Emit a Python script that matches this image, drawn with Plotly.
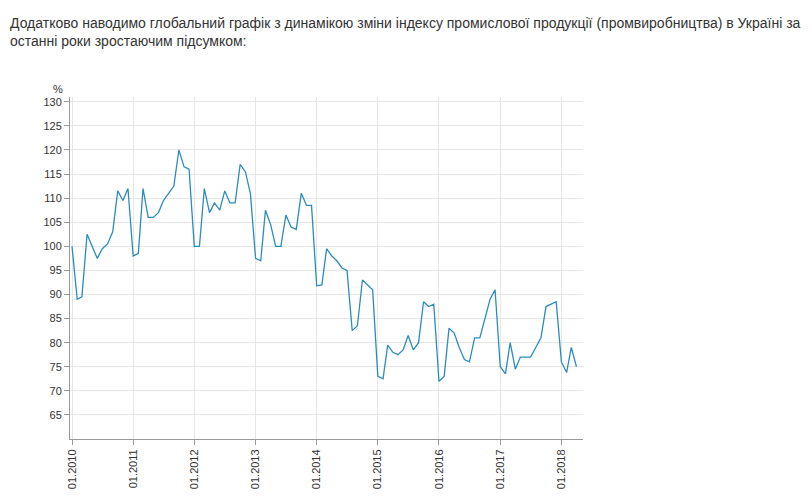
import plotly.graph_objects as go
import pandas as pd

start_month = "2010-01-01"
values = [
    100, 89, 89.5, 102.5, 100, 97.5, 99.5, 100.5, 103, 111.5, 109.5, 112,
    98, 98.5, 112, 106, 106, 107, 109.5, 111, 112.5, 120, 116.5, 116,
    100, 100, 112, 107, 109, 107.5, 111.5, 109, 109, 117, 115.5, 111,
    97.5, 97, 107.5, 104.5, 100, 100, 106.5, 104, 103.5, 111, 108.5, 108.5,
    91.8, 92, 99.5, 98, 97, 95.5, 95, 82.5, 83.5, 93, 92, 91,
    73, 72.5, 79.5, 78, 77.5, 78.5, 81.5, 78.5, 80, 88.5, 87.5, 88,
    72, 73, 83, 82, 79, 76.5, 76, 81, 81, 85, 89, 91,
    75, 73.5, 80, 74.5, 77, 77, 77, 79, 81, 87.5, 88, 88.5,
    76, 73.8, 79, 75,
]
dates = pd.date_range(start_month, periods=len(values), freq="MS")
year_ticks = pd.date_range("2010-01-01", "2018-01-01", freq="YS")
y_ticks = list(range(65, 131, 5))

fig = go.Figure(go.Scatter(x=dates, y=values, mode="lines",
                           line=dict(color="#2b8cbe", width=1.3), hoverinfo="skip"))
fig.update_layout(
    width=812, height=496, plot_bgcolor="white", paper_bgcolor="white",
    margin=dict(l=62, r=237, t=89, b=65), showlegend=False,
    font=dict(family="Arial, Liberation Sans", size=12, color="#333"),
)
fig.update_xaxes(range=["2009-12-20", "2018-05-10"], tickvals=year_ticks,
                 tickformat="%m.%Y", tickangle=-90, showgrid=True, gridcolor="#e6e6e6",
                 showline=True, linecolor="#999", ticks="outside", ticklen=5, tickcolor="#999",
                 tickfont=dict(size=11))
fig.update_yaxes(range=[60, 131], tickvals=y_ticks, showgrid=True, gridcolor="#e6e6e6",
                 showline=True, linecolor="#999", ticks="outside", ticklen=5, tickcolor="#999",
                 tickfont=dict(size=11), zeroline=False)
fig.add_annotation(text="%", xref="paper", yref="paper", x=-0.01, y=1.0, yshift=16,
                   showarrow=False, font=dict(size=11, color="#333"), xanchor="right")
fig.add_annotation(
    text="Додатково наводимо глобальний графік з динамікою зміни індексу промислової продукції (промвиробництва) в Україні за<br>останні роки зростаючим підсумком:",
    xref="paper", yref="paper", x=-62/513, y=1, yshift=89-5, xanchor="left", yanchor="top",
    align="left", showarrow=False, font=dict(size=14, color="#333"))
fig.write_html("out.html")
